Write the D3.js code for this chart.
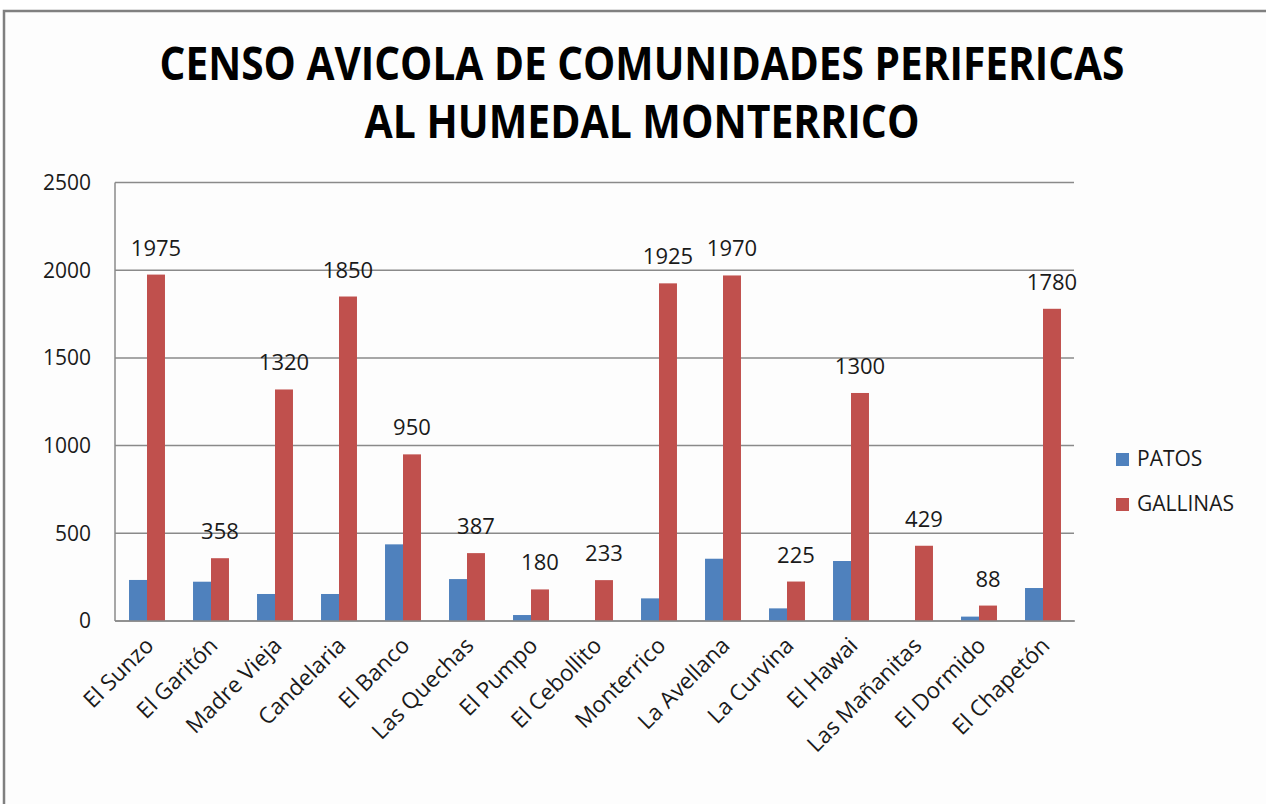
<!DOCTYPE html>
<html>
<head>
<meta charset="utf-8">
<script src="https://cdn.jsdelivr.net/npm/d3@7"></script>
<style>
  html, body { margin: 0; padding: 0; background: #ffffff; }
  svg { display: block; }
</style>
</head>
<body>
<svg id="chart" width="1266" height="804"></svg>
<script>
const categories = ["El Sunzo","El Garitón","Madre Vieja","Candelaria","El Banco","Las Quechas","El Pumpo","El Cebollito","Monterrico","La Avellana","La Curvina","El Hawai","Las Mañanitas","El Dormido","El Chapetón"];
const patos    = [234, 224, 154, 154, 437, 239, 34, 0, 129, 355, 72, 342, 0, 25, 188];
const gallinas = [1975, 358, 1320, 1850, 950, 387, 180, 233, 1925, 1970, 225, 1300, 429, 88, 1780];
const seriesNames = ["PATOS", "GALLINAS"];
const seriesColors = ["#4F81BD", "#C0504D"];
const yTicks = [0, 500, 1000, 1500, 2000, 2500];
const titleLines = ["CENSO AVICOLA DE COMUNIDADES PERIFERICAS", "AL HUMEDAL MONTERRICO"];

const svg = d3.select("#chart");
const font = "'Open Sans', 'Liberation Sans', sans-serif";

// outer frame
svg.append("rect").attr("x", 4).attr("y", 11).attr("width", 1280).attr("height", 820)
  .attr("fill", "#fdfdfd").attr("stroke", "#808080").attr("stroke-width", 2.5);

const plot = { left: 115, right: 1075, top: 182.5, bottom: 621 };

const x = d3.scaleBand().domain(categories).range([plot.left, plot.right]).padding(0);
const x1 = d3.scaleBand().domain(seriesNames).range([0, x.bandwidth()]).paddingInner(0).paddingOuter(0.78);
const y = d3.scaleLinear().domain([0, 2500]).range([plot.bottom, plot.top]);

// gridlines
svg.append("g").selectAll("line").data(yTicks).join("line")
  .attr("x1", plot.left).attr("x2", plot.right - 1)
  .attr("y1", d => y(d)).attr("y2", d => y(d))
  .attr("stroke", "#8a8a8a").attr("stroke-width", 1.5);

// y axis line
svg.append("line").attr("x1", plot.left).attr("x2", plot.left)
  .attr("y1", plot.top).attr("y2", plot.bottom)
  .attr("stroke", "#8a8a8a").attr("stroke-width", 1.5);

// y tick labels
svg.append("g").selectAll("text").data(yTicks).join("text")
  .attr("x", 91).attr("y", d => y(d)).attr("dy", "0.35em")
  .attr("text-anchor", "end")
  .style("font-family", font).style("font-size", "21px").attr("fill", "#1a1a1a")
  .text(d => d);

// bars
const rows = categories.map((c, i) => ({ cat: c, vals: [patos[i], gallinas[i]] }));
const groups = svg.append("g").selectAll("g").data(rows).join("g")
  .attr("transform", d => `translate(${x(d.cat)},0)`);
groups.selectAll("rect").data(d => d.vals.map((v, j) => ({ key: seriesNames[j], v, j })))
  .join("rect")
  .attr("x", d => x1(d.key)).attr("width", x1.bandwidth())
  .attr("y", d => y(d.v)).attr("height", d => y(0) - y(d.v))
  .attr("fill", d => seriesColors[d.j]);

// data labels for gallinas
svg.append("g").selectAll("text").data(rows).join("text")
  .attr("x", d => x(d.cat) + x1("GALLINAS") + x1.bandwidth() / 2)
  .attr("y", d => y(d.vals[1]) - 19)
  .attr("text-anchor", "middle")
  .style("font-family", font).style("font-size", "22px").attr("fill", "#1a1a1a")
  .text(d => d.vals[1]);

// x axis line
svg.append("line").attr("x1", plot.left).attr("x2", plot.right)
  .attr("y1", plot.bottom).attr("y2", plot.bottom)
  .attr("stroke", "#8a8a8a").attr("stroke-width", 1.5);

// x labels rotated
svg.append("g").selectAll("text").data(categories).join("text")
  .attr("transform", d => `translate(${x(d) + x.bandwidth() / 2 + 8},${plot.bottom + 26}) rotate(-45)`)
  .attr("text-anchor", "end")
  .style("font-family", font).style("font-size", "22.5px").attr("fill", "#1a1a1a")
  .text(d => d);

// legend
const legend = svg.append("g").selectAll("g").data(seriesNames).join("g")
  .attr("transform", (d, i) => `translate(1116,${453 + i * 45})`);
legend.append("rect").attr("width", 13).attr("height", 13).attr("fill", (d, i) => seriesColors[i]);
legend.append("text").attr("x", 21).attr("y", 13)
  .style("font-family", font).style("font-size", "21px").attr("fill", "#1a1a1a")
  .text(d => d);

// title (horizontally condensed to match the reference width)
const tl = [{ t: titleLines[0], y: 80, w: 965 }, { t: titleLines[1], y: 138, w: 555 }];
tl.forEach(d => {
  const g = svg.append("g");
  const t = g.append("text")
    .attr("x", 0).attr("y", 0)
    .attr("text-anchor", "middle")
    .style("font-family", font).style("font-weight", "bold").style("font-size", "47px").attr("fill", "#000")
    .text(d.t);
  const nat = t.node().getComputedTextLength();
  g.attr("transform", `translate(642,${d.y}) scale(${d.w / nat},1)`);
});
</script>
</body>
</html>
